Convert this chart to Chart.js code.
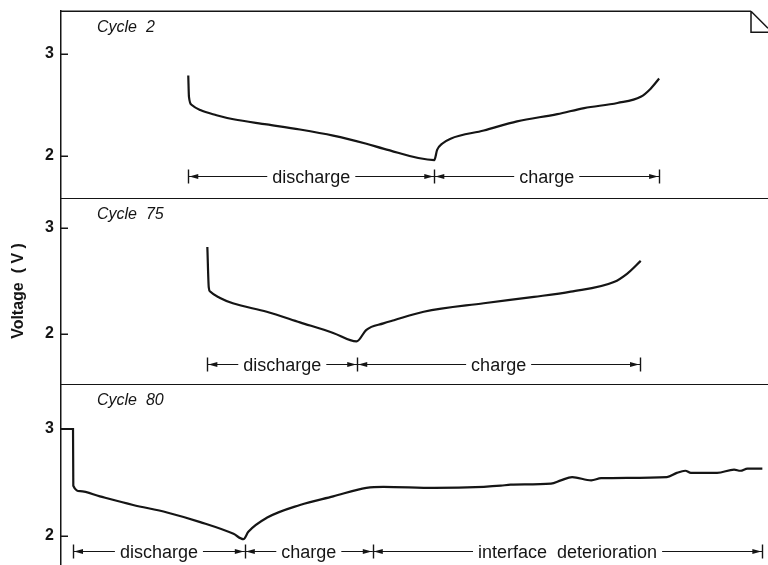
<!DOCTYPE html>
<html><head><meta charset="utf-8">
<script src="https://cdn.jsdelivr.net/npm/chart.js@4"></script>
<style>
html,body{margin:0;padding:0;background:#fff;}
#wrap{position:relative;width:768px;height:565px;overflow:hidden;background:#fff;}
.panel{position:absolute;left:0;width:768px;}
canvas{display:block;}
</style></head><body>
<div id="wrap">
<div class="panel" style="top:0;height:198px"><canvas id="c1" width="768" height="198"></canvas></div>
<div class="panel" style="top:198px;height:186px"><canvas id="c2" width="768" height="186"></canvas></div>
<div class="panel" style="top:384px;height:181px"><canvas id="c3" width="768" height="181"></canvas></div>
</div>
<script>
// ---- data (time in arbitrary units 0-100, voltage in V) ----
const cycle2Time = [18.0, 18.1, 18.5, 19.7, 22.0, 24.4, 29.1, 33.8, 38.5, 43.2, 45.7, 52.8, 53.2, 53.9, 55.1, 59.8, 64.5, 70.2, 74.0, 78.7, 82.0, 83.4, 84.6];
const cycle2Volt = [2.79, 2.58, 2.50, 2.45, 2.40, 2.36, 2.31, 2.26, 2.20, 2.12, 2.07, 1.96, 2.06, 2.12, 2.17, 2.25, 2.34, 2.41, 2.47, 2.52, 2.58, 2.66, 2.76];

const cycle75Time = [20.7, 20.9, 21.1, 22.5, 24.3, 29.1, 33.8, 38.5, 41.8, 43.2, 45.6, 47.1, 51.3, 59.8, 66.9, 72.1, 78.2, 80.1, 82.0];
const cycle75Volt = [2.82, 2.44, 2.40, 2.34, 2.29, 2.21, 2.11, 2.01, 1.93, 2.04, 2.10, 2.13, 2.21, 2.29, 2.35, 2.40, 2.49, 2.57, 2.69];

const cycle80Time = [0, 1.70, 1.74, 2.7, 5.5, 10.2, 15.0, 19.7, 24.4, 25.8, 26.5, 29.1, 33.8, 38.5, 43.2, 45.6, 52.8, 59.8, 62.2, 63.6, 69.3, 70.7, 72.3, 75.0, 76.4, 85.7, 87.1, 88.3, 89.1, 92.8, 95.2, 96.1, 97.1, 99.2];
const cycle80Volt = [3.00, 3.00, 2.47, 2.42, 2.37, 2.29, 2.22, 2.13, 2.02, 1.97, 2.04, 2.17, 2.29, 2.37, 2.45, 2.46, 2.45, 2.46, 2.47, 2.48, 2.49, 2.52, 2.55, 2.52, 2.54, 2.55, 2.59, 2.61, 2.59, 2.59, 2.62, 2.61, 2.63, 2.63];

const yTicks = [2, 3];

const cycle2Marks = [18.0, 52.8, 84.6];
const cycle2Phases = ['discharge', 'charge'];
const cycle75Marks = [20.7, 41.9, 81.9];
const cycle75Phases = ['discharge', 'charge'];
const cycle80Marks = [1.7, 26.0, 44.1, 99.2];
const cycle80Phases = ['discharge', 'charge', 'interface  deterioration'];

// ---- drawing ----
const FONT = "'Liberation Sans', Arial, Helvetica, sans-serif";
const INK = '#151515';
Chart.defaults.font.family = FONT;
Chart.defaults.color = INK;

const panelDecor = {
  id: 'panelDecor',
  afterDraw(chart, args, o) {
    const {ctx, chartArea: a, scales: {x, y}} = chart;
    ctx.save();
    ctx.strokeStyle = INK; ctx.fillStyle = INK;
    // top rule / separator
    ctx.lineWidth = 1.5;
    const t = Math.round(a.top) + 0.25;
    ctx.beginPath();
    if (o.corner) {
      const cx = a.right - 17;
      ctx.moveTo(a.left, t); ctx.lineTo(cx, t);
      ctx.moveTo(cx, t); ctx.lineTo(a.right, t + 17);
      ctx.moveTo(cx, t); ctx.lineTo(cx, t + 21); ctx.lineTo(a.right, t + 21);
    } else {
      ctx.moveTo(a.left, t); ctx.lineTo(a.right, t);
    }
    ctx.stroke();
    // inward tick marks
    ctx.lineWidth = 1.5;
    y.ticks.forEach(tk => {
      const py = Math.round(y.getPixelForValue(tk.value)) + 0.25;
      ctx.beginPath(); ctx.moveTo(a.left - 1, py); ctx.lineTo(a.left + 7, py); ctx.stroke();
    });
    // cycle label
    ctx.font = 'italic 16px ' + FONT;
    ctx.textAlign = 'left'; ctx.textBaseline = 'alphabetic';
    ctx.fillText(o.label, a.left + 36, a.top + 21);
    // phase annotations
    const py = Math.round(y.getPixelForValue(o.level)) + 0.5;
    ctx.font = '18px ' + FONT;
    ctx.textAlign = 'center';
    ctx.lineWidth = 1.1;
    for (let i = 0; i < o.phases.length; i++) {
      const x0 = x.getPixelForValue(o.marks[i]);
      const x1 = x.getPixelForValue(o.marks[i + 1]);
      const cx = (x0 + x1) / 2;
      const w = ctx.measureText(o.phases[i]).width;
      ctx.beginPath();
      ctx.moveTo(x0, py); ctx.lineTo(cx - w / 2 - 5, py);
      ctx.moveTo(cx + w / 2 + 5, py); ctx.lineTo(x1, py);
      ctx.stroke();
      ctx.fillText(o.phases[i], cx, py + 6);
      ctx.beginPath();
      ctx.moveTo(x0 + 1, py); ctx.lineTo(x0 + 10, py - 2.5); ctx.lineTo(x0 + 10, py + 2.5); ctx.closePath();
      ctx.moveTo(x1 - 1, py); ctx.lineTo(x1 - 10, py - 2.5); ctx.lineTo(x1 - 10, py + 2.5); ctx.closePath();
      ctx.fill();
    }
    ctx.lineWidth = 1.4;
    o.marks.forEach(m => {
      const px = Math.round(x.getPixelForValue(m)) + 0.5;
      ctx.beginPath(); ctx.moveTo(px, py - 7); ctx.lineTo(px, py + 7); ctx.stroke();
    });
    ctx.restore();
  }
};

function makePanel(id, times, volts, yMin, yMax, padTop, decor, title) {
  const pts = times.map((t, i) => ({x: t, y: volts[i]}));
  return new Chart(document.getElementById(id), {
    type: 'line',
    data: { datasets: [{ data: pts, borderColor: INK, borderWidth: 2.2, pointRadius: 0,
      tension: 0.3, cubicInterpolationMode: 'monotone', fill: false }] },
    options: {
      responsive: false, animation: false, events: [],
      layout: { padding: { top: padTop, left: 0, right: 0, bottom: 0 } },
      plugins: { legend: { display: false }, tooltip: { enabled: false }, panelDecor: decor },
      scales: {
        x: { type: 'linear', min: 0, max: 100, display: false },
        y: {
          type: 'linear', min: yMin, max: yMax,
          afterBuildTicks: s => { s.ticks = yTicks.map(v => ({value: v})); },
          afterFit: s => { s.width = 61; s.paddingTop = 0; s.paddingBottom = 0; },
          ticks: { padding: 7, color: INK, font: { size: 16, weight: 'bold' }, callback: v => String(v) },
          grid: { display: true, drawOnChartArea: false, drawTicks: false },
          border: { display: true, color: INK, width: 1.5 },
          title: title ? { display: true, text: title, color: INK, font: { size: 16, weight: 'bold' }, padding: { top: 9, bottom: 0 } } : { display: false }
        }
      }
    },
    plugins: [panelDecor]
  });
}

makePanel('c1', cycle2Time, cycle2Volt, 2 - 42 / 102, 3 + 43 / 102, 11,
  { label: 'Cycle  2', level: 1.80, marks: cycle2Marks, phases: cycle2Phases, corner: true });
makePanel('c2', cycle75Time, cycle75Volt, 2 - 50 / 106, 3 + 30 / 106, 0,
  { label: 'Cycle  75', level: 1.72, marks: cycle75Marks, phases: cycle75Phases, corner: false }, 'Voltage  ( V )');
makePanel('c3', cycle80Time, cycle80Volt, 2 - 29 / 107, 3 + 45 / 107, 0,
  { label: 'Cycle  80', level: 1.86, marks: cycle80Marks, phases: cycle80Phases, corner: false });
</script>
</body></html>
